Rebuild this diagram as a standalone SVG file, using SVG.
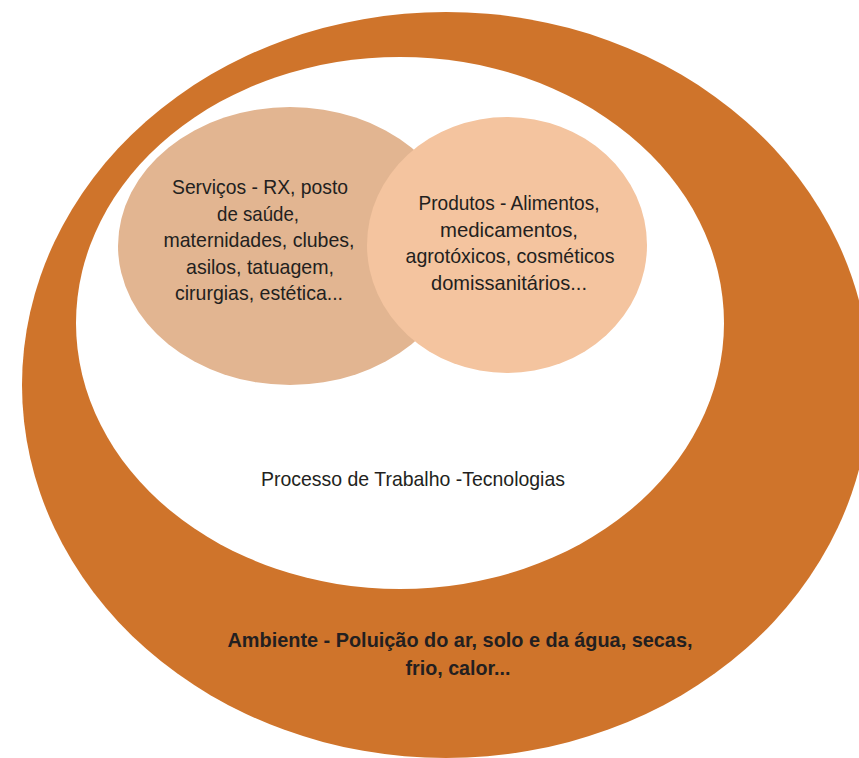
<svg xmlns="http://www.w3.org/2000/svg" width="859" height="758" viewBox="0 0 859 758">
<style>
.t{font-family:"Liberation Sans",Arial,sans-serif;fill:#231F20;text-anchor:middle;font-size:21px;}
.b{font-weight:bold;}
</style>
<rect width="859" height="758" fill="#FFFFFF"/>
<g id="ambiente">
<ellipse cx="446" cy="385" rx="424" ry="373" fill="#CF742B"/>
<text class="t b" x="460" y="647" textLength="465" lengthAdjust="spacingAndGlyphs">Ambiente - Poluição do ar, solo e da água, secas,</text>
<text class="t b" x="458" y="675" textLength="105" lengthAdjust="spacingAndGlyphs">frio, calor...</text>
</g>
<g id="processo">
<ellipse cx="400" cy="323" rx="324" ry="266" fill="#FFFFFF"/>
<text class="t" x="413" y="486" textLength="304" lengthAdjust="spacingAndGlyphs">Processo de Trabalho -Tecnologias</text>
</g>
<g id="servicos">
<ellipse cx="290" cy="246" rx="172" ry="139" fill="#E2B591"/>
</g>
<g id="produtos">
<ellipse cx="507" cy="245" rx="140" ry="128" fill="#F4C49F"/>
<text class="t" x="509" y="210" textLength="181" lengthAdjust="spacingAndGlyphs">Produtos - Alimentos,</text>
<text class="t" x="509" y="237" textLength="138" lengthAdjust="spacingAndGlyphs">medicamentos,</text>
<text class="t" x="510" y="263" textLength="209" lengthAdjust="spacingAndGlyphs">agrotóxicos, cosméticos</text>
<text class="t" x="509" y="290" textLength="156" lengthAdjust="spacingAndGlyphs">domissanitários...</text>
</g>
<g id="servicos-text">
<text class="t" x="260" y="194" textLength="176" lengthAdjust="spacingAndGlyphs">Serviços - RX, posto</text>
<text class="t" x="258" y="221" textLength="82" lengthAdjust="spacingAndGlyphs">de saúde,</text>
<text class="t" x="259" y="247" textLength="191" lengthAdjust="spacingAndGlyphs">maternidades, clubes,</text>
<text class="t" x="260" y="274" textLength="148" lengthAdjust="spacingAndGlyphs">asilos, tatuagem,</text>
<text class="t" x="259" y="300" textLength="168" lengthAdjust="spacingAndGlyphs">cirurgias, estética...</text>
</g>
<g id="connectors"/>
</svg>
